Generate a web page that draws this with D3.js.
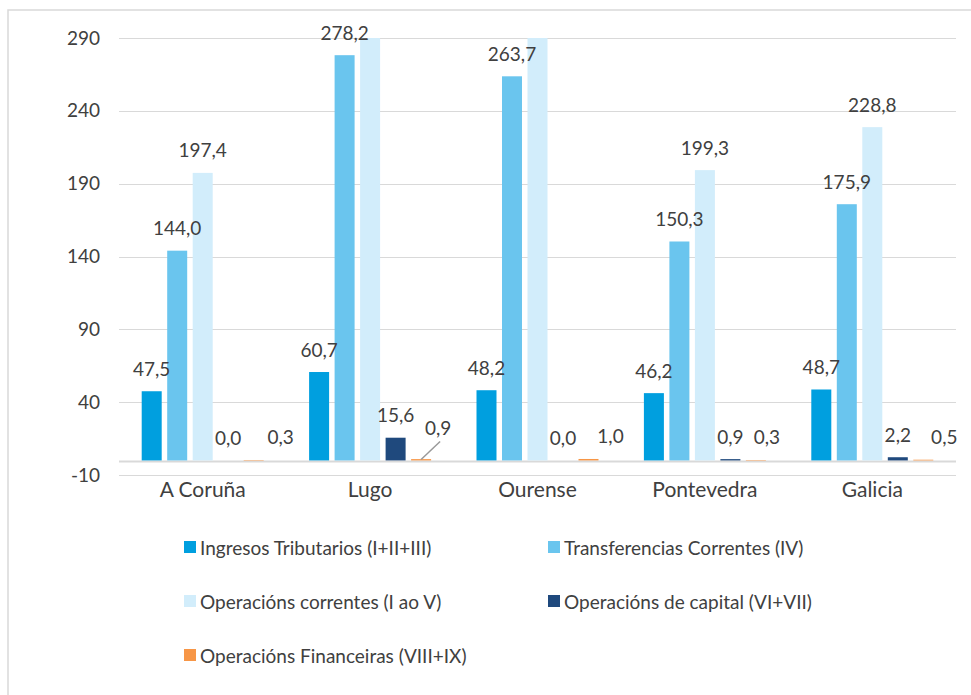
<!DOCTYPE html>
<html>
<head>
<meta charset="utf-8">
<script src="https://cdn.jsdelivr.net/npm/d3@7"></script>
<style>
  html, body { margin: 0; padding: 0; background: #fff; }
  svg { display: block; }
  text { font-family: Lato, "Open Sans", sans-serif; fill: #404040; }
</style>
</head>
<body>
<svg id="chart" width="971" height="695"></svg>
<script>
// ---- data ----
const categories = ["A Coruña", "Lugo", "Ourense", "Pontevedra", "Galicia"];
const seriesNames = [
  "Ingresos Tributarios (I+II+III)",
  "Transferencias Correntes (IV)",
  "Operacións correntes (I ao V)",
  "Operacións de capital (VI+VII)",
  "Operacións Financeiras (VIII+IX)"
];
const ingresosTributarios = [47.5, 60.7, 48.2, 46.2, 48.7];
const transferenciasCorrentes = [144.0, 278.2, 263.7, 150.3, 175.9];
const operacionsCorrentes = [197.4, 342.0, 315.0, 199.3, 228.8]; // Lugo & Ourense exceed axis (estimated)
const operacionsCapital = [0.0, 15.6, 0.0, 0.9, 2.2];
const operacionsFinanceiras = [0.3, 0.9, 1.0, 0.3, 0.5];
const yTicks = [-10, 40, 90, 140, 190, 240, 290];

// ---- style ----
const colors = ["#009FDF", "#6AC5EE", "#D2EDFB", "#1F497D", "#F79646"];
const seriesValues = [ingresosTributarios, transferenciasCorrentes, operacionsCorrentes, operacionsCapital, operacionsFinanceiras];
// manual label nudges for the financial series (dx, dy)
const finLabelNudge = [[27, 0], [17, -9], [22, 0], [11, 0], [21, 0]];

const svg = d3.select("#chart");

// outer chart border
svg.append("rect").attr("x", 8).attr("y", 10).attr("width", 1000).attr("height", 720)
  .attr("fill", "none").attr("stroke", "#d9d9d9").attr("stroke-width", 1.5);

const plot = { left: 119, right: 956, top: 38, bottom: 475 };
const x0 = d3.scaleBand().domain(categories).range([plot.left, plot.right]).paddingInner(0).paddingOuter(0);
const y = d3.scaleLinear().domain([-10, 290]).range([plot.bottom, plot.top]);

const barW = 20, barStep = 25.5;
const x1 = d3.scaleBand().domain(d3.range(5)).range([-2 * barStep - barStep / 2, 2 * barStep + barStep / 2]);

// gridlines
svg.append("g").selectAll("line").data(yTicks).join("line")
  .attr("x1", plot.left).attr("x2", plot.right)
  .attr("y1", d => Math.round(y(d)) + 0.5).attr("y2", d => Math.round(y(d)) + 0.5)
  .attr("stroke", "#d9d9d9").attr("stroke-width", 1);

// category axis line at 0 (under the bars)
svg.append("line").attr("x1", plot.left).attr("x2", plot.right)
  .attr("y1", y(0) + 1).attr("y2", y(0) + 1).attr("stroke", "#d9d9d9").attr("stroke-width", 2);

// y axis labels
const yAxis = d3.axisLeft(y).tickValues(yTicks).tickSize(0).tickPadding(0).tickFormat(d => String(d));
const yg = svg.append("g").attr("transform", `translate(${plot.left - 19},0)`).call(yAxis);
yg.select(".domain").remove();
yg.selectAll("text").style("font-family", "Lato, sans-serif").style("font-size", "19px").attr("fill", "#404040");

// clip path for bars
svg.append("clipPath").attr("id", "clip").append("rect")
  .attr("x", plot.left).attr("y", plot.top).attr("width", plot.right - plot.left).attr("height", plot.bottom - plot.top);

const barsG = svg.append("g").attr("clip-path", "url(#clip)");
const labelsG = svg.append("g");

seriesValues.forEach((vals, si) => {
  const data = categories.map((c, ci) => ({ c, ci, v: vals[ci] }));
  barsG.selectAll(null).data(data).join("rect")
    .attr("x", d => x0(d.c) + x0.bandwidth() / 2 + x1(si) + (barStep - barW) / 2)
    .attr("width", barW)
    .attr("y", d => y(Math.max(0, d.v)))
    .attr("height", d => Math.abs(y(d.v) - y(0)))
    .attr("fill", colors[si]);

  data.filter(d => d.v <= 290).forEach(d => {
    const cx = x0(d.c) + x0.bandwidth() / 2 + x1(si) + barStep / 2;
    const nudge = si === 4 ? finLabelNudge[d.ci] : [0, 0];
    labelsG.append("text")
      .attr("x", cx + nudge[0])
      .attr("y", y(d.v) - 23 + nudge[1])
      .attr("text-anchor", "middle")
      .attr("dominant-baseline", "central")
      .style("font-size", "19px")
      .text(d3.format(".1f")(d.v).replace(".", ","));
  });
});

// leader line for Lugo financial label
{
  const ci = 1, si = 4;
  const cx = x0(categories[ci]) + x0.bandwidth() / 2 + x1(si) + barStep / 2;
  svg.append("line")
    .attr("x1", cx + 19).attr("y1", y(0) - 19)
    .attr("x2", cx).attr("y2", y(0) - 1)
    .attr("stroke", "#999999").attr("stroke-width", 1.5);
}

// category labels
const xAxis = d3.axisBottom(x0).tickSize(0).tickPadding(0);
const xg = svg.append("g").attr("transform", `translate(0,${plot.bottom + 7})`).call(xAxis);
xg.select(".domain").remove();
xg.selectAll("text").style("font-family", "Lato, sans-serif").style("font-size", "21px").attr("fill", "#404040");

// legend
const legendPos = [[184, 547], [548, 547], [184, 601], [548, 601], [184, 655]];
const lg = svg.append("g");
seriesNames.forEach((name, i) => {
  const [lx, ly] = legendPos[i];
  lg.append("rect").attr("x", lx).attr("y", ly - 6).attr("width", 12).attr("height", 12).attr("fill", colors[i]);
  lg.append("text").attr("x", lx + 16).attr("y", ly).attr("dominant-baseline", "central")
    .style("font-size", "19px").text(name);
});
</script>
</body>
</html>
